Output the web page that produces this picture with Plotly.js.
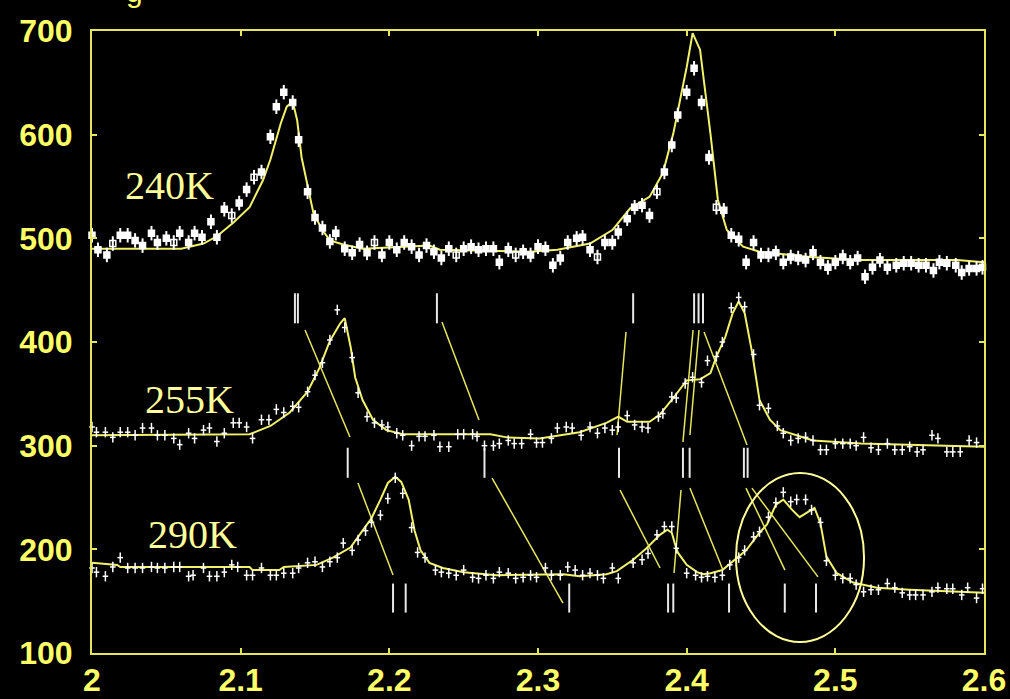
<!DOCTYPE html>
<html>
<head>
<meta charset="utf-8">
<script src="https://cdn.plot.ly/plotly-3.0.1.min.js"></script>
<style>
  html, body { margin: 0; padding: 0; background: #000; }
  #chart { width: 1010px; height: 699px; }
</style>
</head>
<body>
<div id="chart"></div>
<script>
// ---- Measured intensities (white points with error bars) ----
const x240 = [2.000,2.004,2.010,2.014,2.019,2.024,2.029,2.034,2.040,2.044,2.050,2.055,2.059,2.065,2.069,2.074,2.080,2.084,2.089,2.094,2.099,2.104,2.109,2.114,2.120,2.124,2.129,2.135,2.139,2.145,2.150,2.155,2.160,2.164,2.170,2.175,2.180,2.185,2.190,2.195,2.200,2.205,2.210,2.215,2.220,2.225,2.230,2.235,2.240,2.245,2.250,2.255,2.260,2.265,2.270,2.274,2.280,2.285,2.290,2.295,2.300,2.305,2.310,2.315,2.320,2.326,2.330,2.335,2.340,2.345,2.350,2.354,2.360,2.365,2.370,2.375,2.380,2.385,2.390,2.394,2.400,2.405,2.410,2.415,2.420,2.425,2.430,2.435,2.440,2.445,2.450,2.455,2.460,2.465,2.470,2.475,2.480,2.485,2.490,2.495,2.500,2.505,2.510,2.515,2.520,2.525,2.530,2.535,2.541,2.546,2.551,2.556,2.561,2.566,2.570,2.575,2.581,2.585,2.590,2.595,2.599];
const y240 = [503,489,484,495,503,503,498,493,505,496,500,496,505,496,505,501,516,501,528,522,534,547,559,564,598,627,641,631,595,545,520,510,497,505,490,486,494,486,496,484,496,489,496,492,484,493,487,481,490,484,490,492,489,490,490,477,489,484,487,484,492,490,474,481,496,500,501,489,482,496,496,506,519,530,532,522,545,564,590,619,641,664,631,578,530,527,503,499,477,496,484,484,486,477,482,481,479,486,477,472,477,482,477,481,463,472,479,472,474,476,476,474,474,469,477,476,474,467,471,471,472];
const open240 = [2.014,2.055,2.094,2.109,2.190,2.245,2.285,2.340,2.380,2.420];

const x255 = [2.000,2.003,2.009,2.014,2.019,2.024,2.029,2.034,2.040,2.044,2.049,2.055,2.059,2.065,2.069,2.075,2.079,2.084,2.089,2.095,2.099,2.104,2.108,2.114,2.119,2.124,2.129,2.135,2.139,2.145,2.150,2.155,2.160,2.165,2.170,2.175,2.179,2.185,2.190,2.195,2.199,2.205,2.209,2.215,2.220,2.224,2.230,2.234,2.240,2.246,2.250,2.256,2.259,2.264,2.270,2.274,2.280,2.284,2.289,2.295,2.299,2.303,2.309,2.313,2.319,2.323,2.329,2.335,2.340,2.345,2.350,2.354,2.360,2.365,2.370,2.374,2.381,2.384,2.390,2.393,2.399,2.404,2.410,2.414,2.420,2.424,2.430,2.435,2.439,2.445,2.449,2.455,2.461,2.465,2.470,2.475,2.480,2.485,2.490,2.494,2.500,2.505,2.510,2.514,2.519,2.524,2.529,2.535,2.540,2.545,2.550,2.555,2.559,2.565,2.569,2.575,2.579,2.584,2.590,2.595];
const y255 = [318,313,313,308,313,313,310,317,317,310,310,307,301,312,307,315,317,304,312,322,322,318,307,325,325,335,332,338,337,352,368,380,402,431,414,385,351,328,322,320,318,312,310,300,309,309,310,299,299,311,311,311,309,300,300,302,305,302,302,311,303,303,307,317,318,317,310,318,312,317,315,318,329,320,318,317,328,331,347,346,360,366,361,382,386,400,433,443,434,388,339,336,319,312,305,307,308,305,296,296,302,302,302,300,308,298,296,302,296,296,299,294,296,310,307,294,294,294,305,303];

const x290 = [2.000,2.003,2.009,2.014,2.019,2.024,2.029,2.034,2.040,2.044,2.049,2.055,2.059,2.065,2.068,2.075,2.079,2.084,2.089,2.094,2.098,2.104,2.108,2.114,2.120,2.124,2.129,2.135,2.139,2.145,2.150,2.155,2.160,2.165,2.169,2.175,2.179,2.184,2.188,2.194,2.199,2.204,2.209,2.215,2.219,2.224,2.231,2.235,2.240,2.245,2.250,2.256,2.260,2.265,2.270,2.274,2.280,2.285,2.290,2.295,2.299,2.305,2.309,2.315,2.320,2.325,2.330,2.335,2.340,2.344,2.350,2.354,2.364,2.370,2.374,2.380,2.385,2.390,2.393,2.400,2.406,2.410,2.414,2.419,2.424,2.429,2.435,2.439,2.445,2.449,2.455,2.460,2.465,2.470,2.474,2.480,2.484,2.490,2.494,2.500,2.505,2.510,2.514,2.519,2.524,2.529,2.535,2.540,2.545,2.550,2.554,2.559,2.565,2.569,2.575,2.579,2.585,2.589,2.595,2.599];
const y290 = [182,178,174,183,192,182,182,182,183,182,182,183,183,174,175,182,174,174,178,185,183,175,175,182,175,175,177,177,182,187,188,183,188,192,206,199,209,218,226,233,249,269,254,221,197,192,180,178,177,175,180,173,172,175,172,178,177,172,173,175,173,182,175,175,183,180,175,177,175,172,182,172,187,190,196,214,222,222,201,177,175,173,174,173,175,185,192,199,212,217,231,245,255,246,248,248,238,226,189,175,172,172,166,159,161,161,167,163,158,156,156,156,159,163,162,162,156,163,153,162];

// ---- Fitted profiles (yellow curves) ----
const fitX240 = [2.000,2.060,2.075,2.084,2.095,2.106,2.115,2.120,2.127,2.131,2.135,2.138,2.141,2.145,2.149,2.155,2.160,2.169,2.182,2.210,2.227,2.234,2.295,2.313,2.335,2.350,2.362,2.375,2.384,2.391,2.400,2.404,2.409,2.416,2.421,2.427,2.438,2.449,2.483,2.517,2.582,2.600];
const fitY240 = [490,490,495,502,515,530,556,576,611,627,632,614,578,550,524,508,498,494,490,492,493,489,487,489,495,508,529,540,563,601,665,698,682,601,537,508,492,487,482,479,479,477];

const fitX255 = [2.000,2.106,2.120,2.133,2.145,2.153,2.160,2.167,2.170,2.174,2.177,2.182,2.189,2.198,2.209,2.268,2.279,2.301,2.328,2.346,2.354,2.360,2.375,2.382,2.391,2.400,2.409,2.416,2.420,2.426,2.431,2.435,2.439,2.444,2.449,2.456,2.463,2.470,2.485,2.517,2.570,2.600];
const fitY255 = [310,311,319,332,352,375,401,418,423,395,366,344,325,315,311,311,308,307,313,322,328,323,323,330,346,363,364,370,386,405,428,439,428,390,344,325,315,312,305,302,300,299];

const fitX290 = [2.000,2.017,2.019,2.106,2.108,2.126,2.129,2.151,2.162,2.174,2.182,2.188,2.194,2.199,2.204,2.208,2.213,2.217,2.221,2.227,2.236,2.250,2.272,2.317,2.328,2.346,2.353,2.364,2.373,2.382,2.387,2.390,2.392,2.394,2.400,2.407,2.411,2.416,2.424,2.431,2.440,2.449,2.454,2.460,2.465,2.471,2.476,2.486,2.490,2.494,2.501,2.512,2.528,2.550,2.600];
const fitY290 = [187,185,183,183,180,180,183,185,192,202,218,230,248,264,270,265,248,218,199,187,182,178,175,176,174,176,179,190,201,214,219,216,206,197,185,178,176,177,180,188,199,216,224,243,248,238,231,240,225,193,177,168,163,161,158];

// ---- Reflection positions (white bars) and their intensity bands ----
const refl240 = [2.1365,2.1385,2.232,2.364,2.405,2.408,2.411];
const refl255 = [2.172,2.264,2.3545,2.3975,2.402,2.4385,2.441];
const refl290 = [2.2025,2.211,2.321,2.3875,2.391,2.4285,2.466,2.487];
const band240 = [418,447];
const band255 = [269,298];
const band290 = [139,167];

// ---- Lines following each reflection from one temperature to the next ----
const linkX0 = [2.1433,2.2354,2.3592,2.4043,2.4083,2.4117,2.1789,2.2691,2.3552,2.3962,2.4022,2.4399,2.4439];
const linkY0 = [411.6,419.3,409.6,411.6,411.6,409.6,264,268.8,257.2,257.2,259.1,259,259];
const linkX1 = [2.1735,2.2603,2.3532,2.3975,2.4022,2.4406,2.2025,2.3168,2.3821,2.3915,2.4244,2.4661,2.4883];
const linkY1 = [308.4,324.8,310.3,303.5,310.3,300.6,175.2,148.2,182,177.2,180,180,173.4];

// ---- Temperature labels ----
const tempLabels = ['240K','255K','290K'];
const tempLabelX = [2.021,2.034,2.036];
const tempLabelY = [551,345,214];

// ---- Highlighted region (ellipse) ----
const ringX = [2.4332,2.5193];
const ringY = [110.6,273.6];

const YELLOW = '#f2f26a';
const LABEL_YELLOW = '#ffff66';

function segments(xs0, ys0, xs1, ys1) {
  const x = [], y = [];
  for (let i = 0; i < xs0.length; i++) {
    x.push(xs0[i], xs1[i], null);
    y.push(ys0[i], ys1[i], null);
  }
  return {x, y};
}
function bars(positions, band) {
  return segments(positions, positions.map(() => band[0]), positions, positions.map(() => band[1]));
}

const traces = [];

// reflection bars
[[refl240, band240], [refl255, band255], [refl290, band290]].forEach(([p, b]) => {
  const s = bars(p, b);
  traces.push({x: s.x, y: s.y, mode: 'lines', type: 'scatter',
    line: {color: '#e8e8e8', width: 2}, hoverinfo: 'skip', showlegend: false});
});

// connecting lines
const links = segments(linkX0, linkY0, linkX1, linkY1);
traces.push({x: links.x, y: links.y, mode: 'lines', type: 'scatter',
  line: {color: '#e6e65c', width: 1.5}, hoverinfo: 'skip', showlegend: false});

// fitted curves
[[fitX240, fitY240], [fitX255, fitY255], [fitX290, fitY290]].forEach(([fx, fy]) => {
  traces.push({x: fx, y: fy, mode: 'lines', type: 'scatter',
    line: {color: YELLOW, width: 2}, showlegend: false});
});

// measured points
traces.push({x: x240, y: y240, mode: 'markers', type: 'scatter', cliponaxis: false,
  marker: {symbol: x240.map(v => open240.includes(v) ? 'square-open' : 'square'),
           size: 6, color: '#ffffff', line: {color: '#ffffff', width: 1.5}},
  error_y: {type: 'constant', value: 7, color: '#ffffff', thickness: 2, width: 0},
  showlegend: false});
[[x255, y255], [x290, y290]].forEach(([px, py]) => {
  traces.push({x: px, y: py, mode: 'markers', type: 'scatter', cliponaxis: false,
    marker: {symbol: 'line-ew', size: 4, color: '#ffffff', line: {color: '#ffffff', width: 1.5}},
    error_y: {type: 'constant', value: 5, color: '#ffffff', thickness: 1.5, width: 0},
    showlegend: false});
});

const annotations = tempLabels.map((t, i) => ({
  x: tempLabelX[i], y: tempLabelY[i], xref: 'x', yref: 'y', text: t, showarrow: false,
  xanchor: 'left', yanchor: 'middle',
  font: {family: 'Liberation Serif, Times New Roman, serif', size: 40, color: '#ffff99'}
}));
// lower part of the heading letter above the frame
annotations.push({x: 0.048, y: 1.064, xref: 'paper', yref: 'paper', text: 'g', showarrow: false,
  xanchor: 'center', yanchor: 'middle',
  font: {family: 'Liberation Sans, Arial, sans-serif', size: 30, color: LABEL_YELLOW}});

const axisCommon = {
  showgrid: false, zeroline: false, showline: true, linecolor: '#e6e65c', linewidth: 2,
  mirror: 'ticks', ticks: 'inside', ticklen: 5, tickwidth: 2, tickcolor: '#e6e65c',
  tickfont: {family: 'Liberation Sans, Arial, sans-serif', size: 32, color: LABEL_YELLOW, weight: 'bold'},
  fixedrange: true
};

const layout = {
  width: 1010, height: 699,
  paper_bgcolor: '#000000', plot_bgcolor: '#000000',
  margin: {l: 92, r: 26, t: 31, b: 46, pad: 0},
  showlegend: false,
  xaxis: Object.assign({}, axisCommon, {range: [2, 2.6], tick0: 2, dtick: 0.1, ticklabelstandoff: -2}),
  yaxis: Object.assign({}, axisCommon, {range: [100, 700], tick0: 100, dtick: 100, ticklabelstandoff: 11}),
  annotations: annotations,
  shapes: [{type: 'circle', xref: 'x', yref: 'y', x0: ringX[0], x1: ringX[1], y0: ringY[0], y1: ringY[1],
            line: {color: '#ffff99', width: 2}}]
};

Plotly.newPlot('chart', traces, layout, {staticPlot: true, displayModeBar: false});
</script>
</body>
</html>
